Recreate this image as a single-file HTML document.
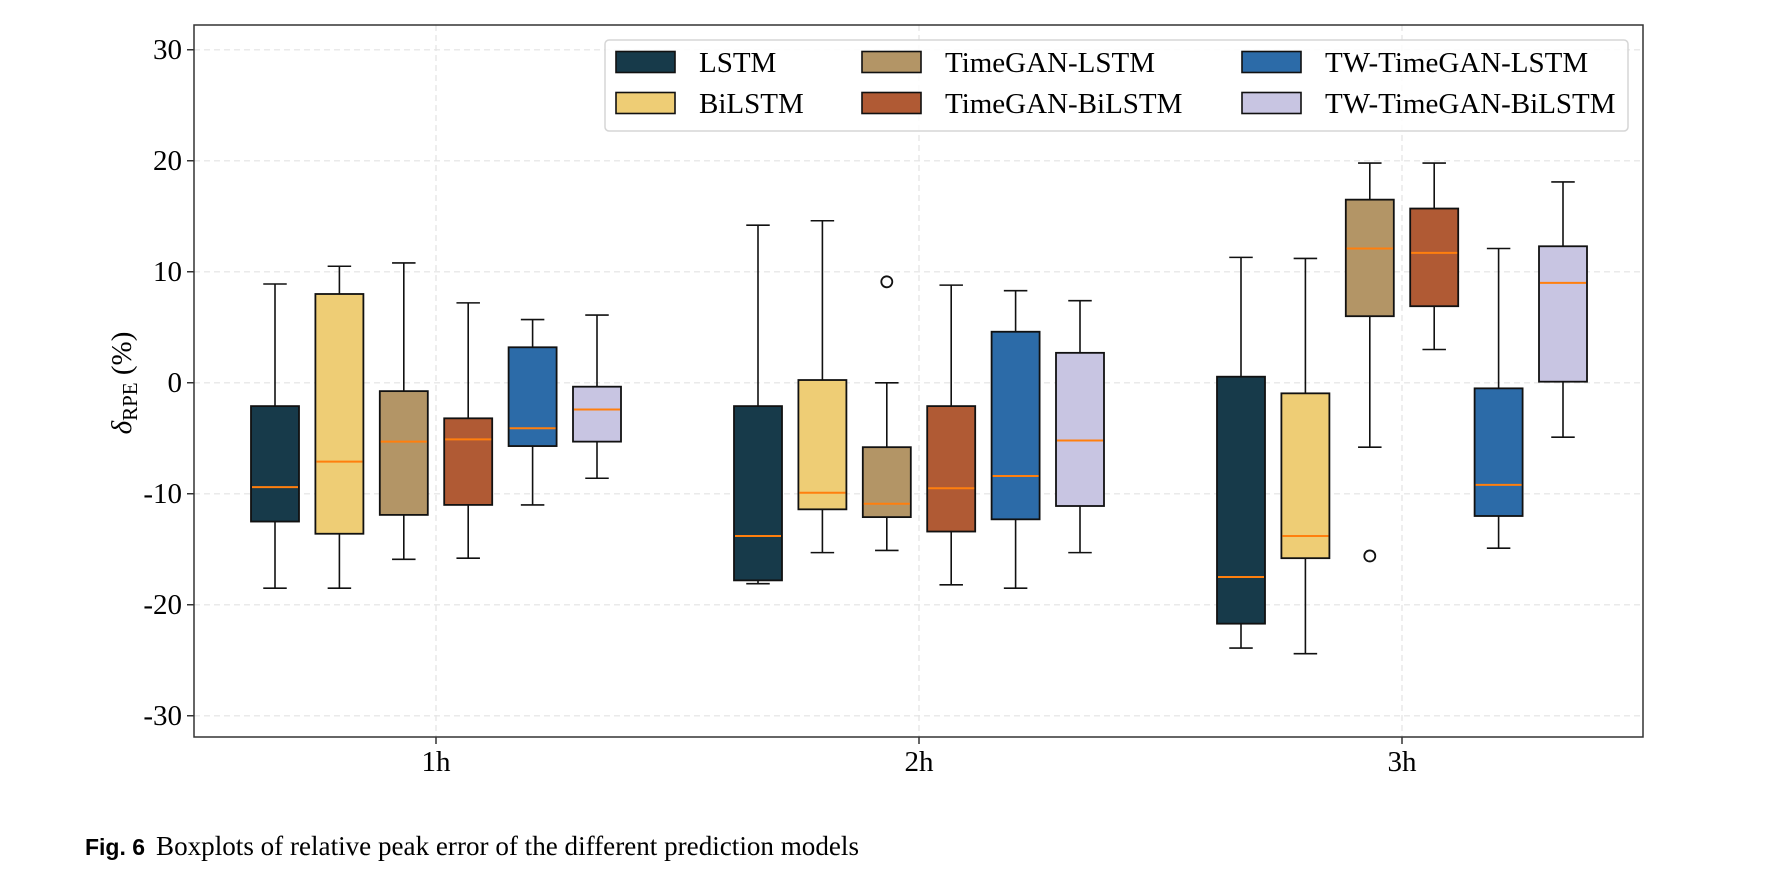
<!DOCTYPE html>
<html><head><meta charset="utf-8"><style>
html,body{margin:0;padding:0;background:#fff;width:1781px;height:871px;overflow:hidden}
svg{display:block}
text{font-family:"Liberation Serif",serif;fill:#000}
</style></head><body>
<svg id="chart" width="1781" height="871" xmlns="http://www.w3.org/2000/svg">
<text x="85" y="855" style="font-family:'Liberation Sans',sans-serif;font-weight:bold;font-size:23px" textLength="60" lengthAdjust="spacingAndGlyphs">Fig. 6</text>
<text x="156" y="855" style="font-size:27px" textLength="703" lengthAdjust="spacingAndGlyphs">Boxplots of relative peak error of the different prediction models</text>
</svg>
<script>
const groups = ['1h','2h','3h'];
const models = ['LSTM','BiLSTM','TimeGAN-LSTM','TimeGAN-BiLSTM','TW-TimeGAN-LSTM','TW-TimeGAN-BiLSTM'];
const colors = ['#173a4a','#eecd75','#b39566','#b05a34','#2c6ba8','#c8c5e2'];
const yTicks = [30,20,10,0,-10,-20,-30];
// [whiskerLow, q1, median, q3, whiskerHigh] per group per model
const stats1h = [[-18.5,-12.5,-9.4,-2.1,8.9],[-18.5,-13.6,-7.1,8.0,10.5],[-15.9,-11.9,-5.3,-0.75,10.8],[-15.8,-11.0,-5.1,-3.2,7.2],[-11.0,-5.7,-4.1,3.2,5.7],[-8.6,-5.3,-2.4,-0.35,6.1]];
const stats2h = [[-18.1,-17.8,-13.8,-2.1,14.2],[-15.3,-11.4,-9.9,0.25,14.6],[-15.1,-12.1,-10.9,-5.8,0],[-18.2,-13.4,-9.5,-2.1,8.8],[-18.5,-12.3,-8.4,4.6,8.3],[-15.3,-11.1,-5.2,2.7,7.4]];
const stats3h = [[-23.9,-21.7,-17.5,0.55,11.3],[-24.4,-15.8,-13.8,-0.95,11.2],[-5.8,6.0,12.1,16.5,19.8],[3.0,6.9,11.7,15.7,19.8],[-14.9,-12.0,-9.2,-0.5,12.1],[-4.9,0.1,9.0,12.3,18.1]];
const allStats = [stats1h, stats2h, stats3h];
// outliers: [groupIndex, modelIndex, value]
const outliers = [[1,2,9.1],[2,2,-15.6]];

const NS='http://www.w3.org/2000/svg';
const svg=document.getElementById('chart');
const L=194,R=1643,T=25,B=737;
const y=v=>382.8-(v*11.1);
const xg=g=>436+g*483;
const xm=(g,m)=>xg(g)+(m-2.5)*64.4;
function mk(tag,at,parent){const e=document.createElementNS(NS,tag);for(const k in at)e.setAttribute(k,at[k]);(parent||svg).appendChild(e);return e;}

yTicks.forEach(t=>{
  const l=mk('line',{x1:L,x2:R,y1:y(t),y2:y(t),stroke:'#e3e3e3','stroke-width':1.2,'stroke-dasharray':'6,4'});
  
  
  mk('line',{x1:L-7,x2:L,y1:y(t),y2:y(t),stroke:'#000','stroke-width':1.2});
  const tx=mk('text',{x:L-12,y:y(t)+9,'text-anchor':'end','font-size':29});
  tx.textContent=t;
  
  
});
groups.forEach((g,i)=>{
  const l=mk('line',{x1:xg(i),x2:xg(i),y1:T,y2:B,stroke:'#e3e3e3','stroke-width':1.2,'stroke-dasharray':'6,4'});
  
  
  mk('line',{x1:xg(i),x2:xg(i),y1:B,y2:B+7,stroke:'#000','stroke-width':1.2});
  const tx=mk('text',{x:xg(i),y:771,'text-anchor':'middle','font-size':29});
  tx.textContent=g;
  
  
});

const bw=48,cw=23.5;
allStats.forEach((gs,gi)=>{
  gs.forEach((s,mi)=>{
    const cx=xm(gi,mi);
    const grp=mk('g',{});
    
    
    const st={stroke:'#111','stroke-width':1.6};
    mk('line',Object.assign({x1:cx,x2:cx,y1:y(s[4]),y2:y(s[3])},st),grp);
    mk('line',Object.assign({x1:cx,x2:cx,y1:y(s[1]),y2:y(s[0])},st),grp);
    mk('line',Object.assign({x1:cx-cw/2,x2:cx+cw/2,y1:y(s[4]),y2:y(s[4])},st),grp);
    mk('line',Object.assign({x1:cx-cw/2,x2:cx+cw/2,y1:y(s[0]),y2:y(s[0])},st),grp);
    mk('rect',{x:cx-bw/2,y:y(s[3]),width:bw,height:y(s[1])-y(s[3]),fill:colors[mi],stroke:'#111','stroke-width':1.8},grp);
    mk('line',{x1:cx-bw/2+1,x2:cx+bw/2-1,y1:y(s[2]),y2:y(s[2]),stroke:'#ff7f0e','stroke-width':2},grp);
  });
});
outliers.forEach(o=>{
  const c=mk('circle',{cx:xm(o[0],o[1]),cy:y(o[2]),r:5.5,fill:'none',stroke:'#111','stroke-width':1.8});
  
  
});

const fr=mk('rect',{x:L,y:T,width:R-L,height:B-T,fill:'none',stroke:'#333','stroke-width':1.5});



const yl=mk('text',{x:0,y:0,'font-size':29,transform:'translate(131,383) rotate(-90)','text-anchor':'middle'});


yl.innerHTML='<tspan font-style="italic">δ</tspan><tspan font-size="21" dy="6">RPE</tspan><tspan dy="-6"> (%)</tspan>';

const lg=mk('g',{});


mk('rect',{x:605,y:40,width:1023,height:91,rx:4,fill:'#fff','fill-opacity':0.85,stroke:'#d5d5d5','stroke-width':1.5},lg);
const px=[616,862,1242],tx=[699,945,1325],ry=[62,103];
models.forEach((m,i)=>{
  const c=Math.floor(i/2),r=i%2;
  const e=mk('g',{},lg);
  
  
  mk('rect',{x:px[c],y:ry[r]-10.5,width:59,height:21,fill:colors[i],stroke:'#111','stroke-width':1.6},e);
  const t=mk('text',{x:tx[c],y:ry[r]+10,'font-size':29},e);
  t.textContent=m;
});
</script>
</body></html>
